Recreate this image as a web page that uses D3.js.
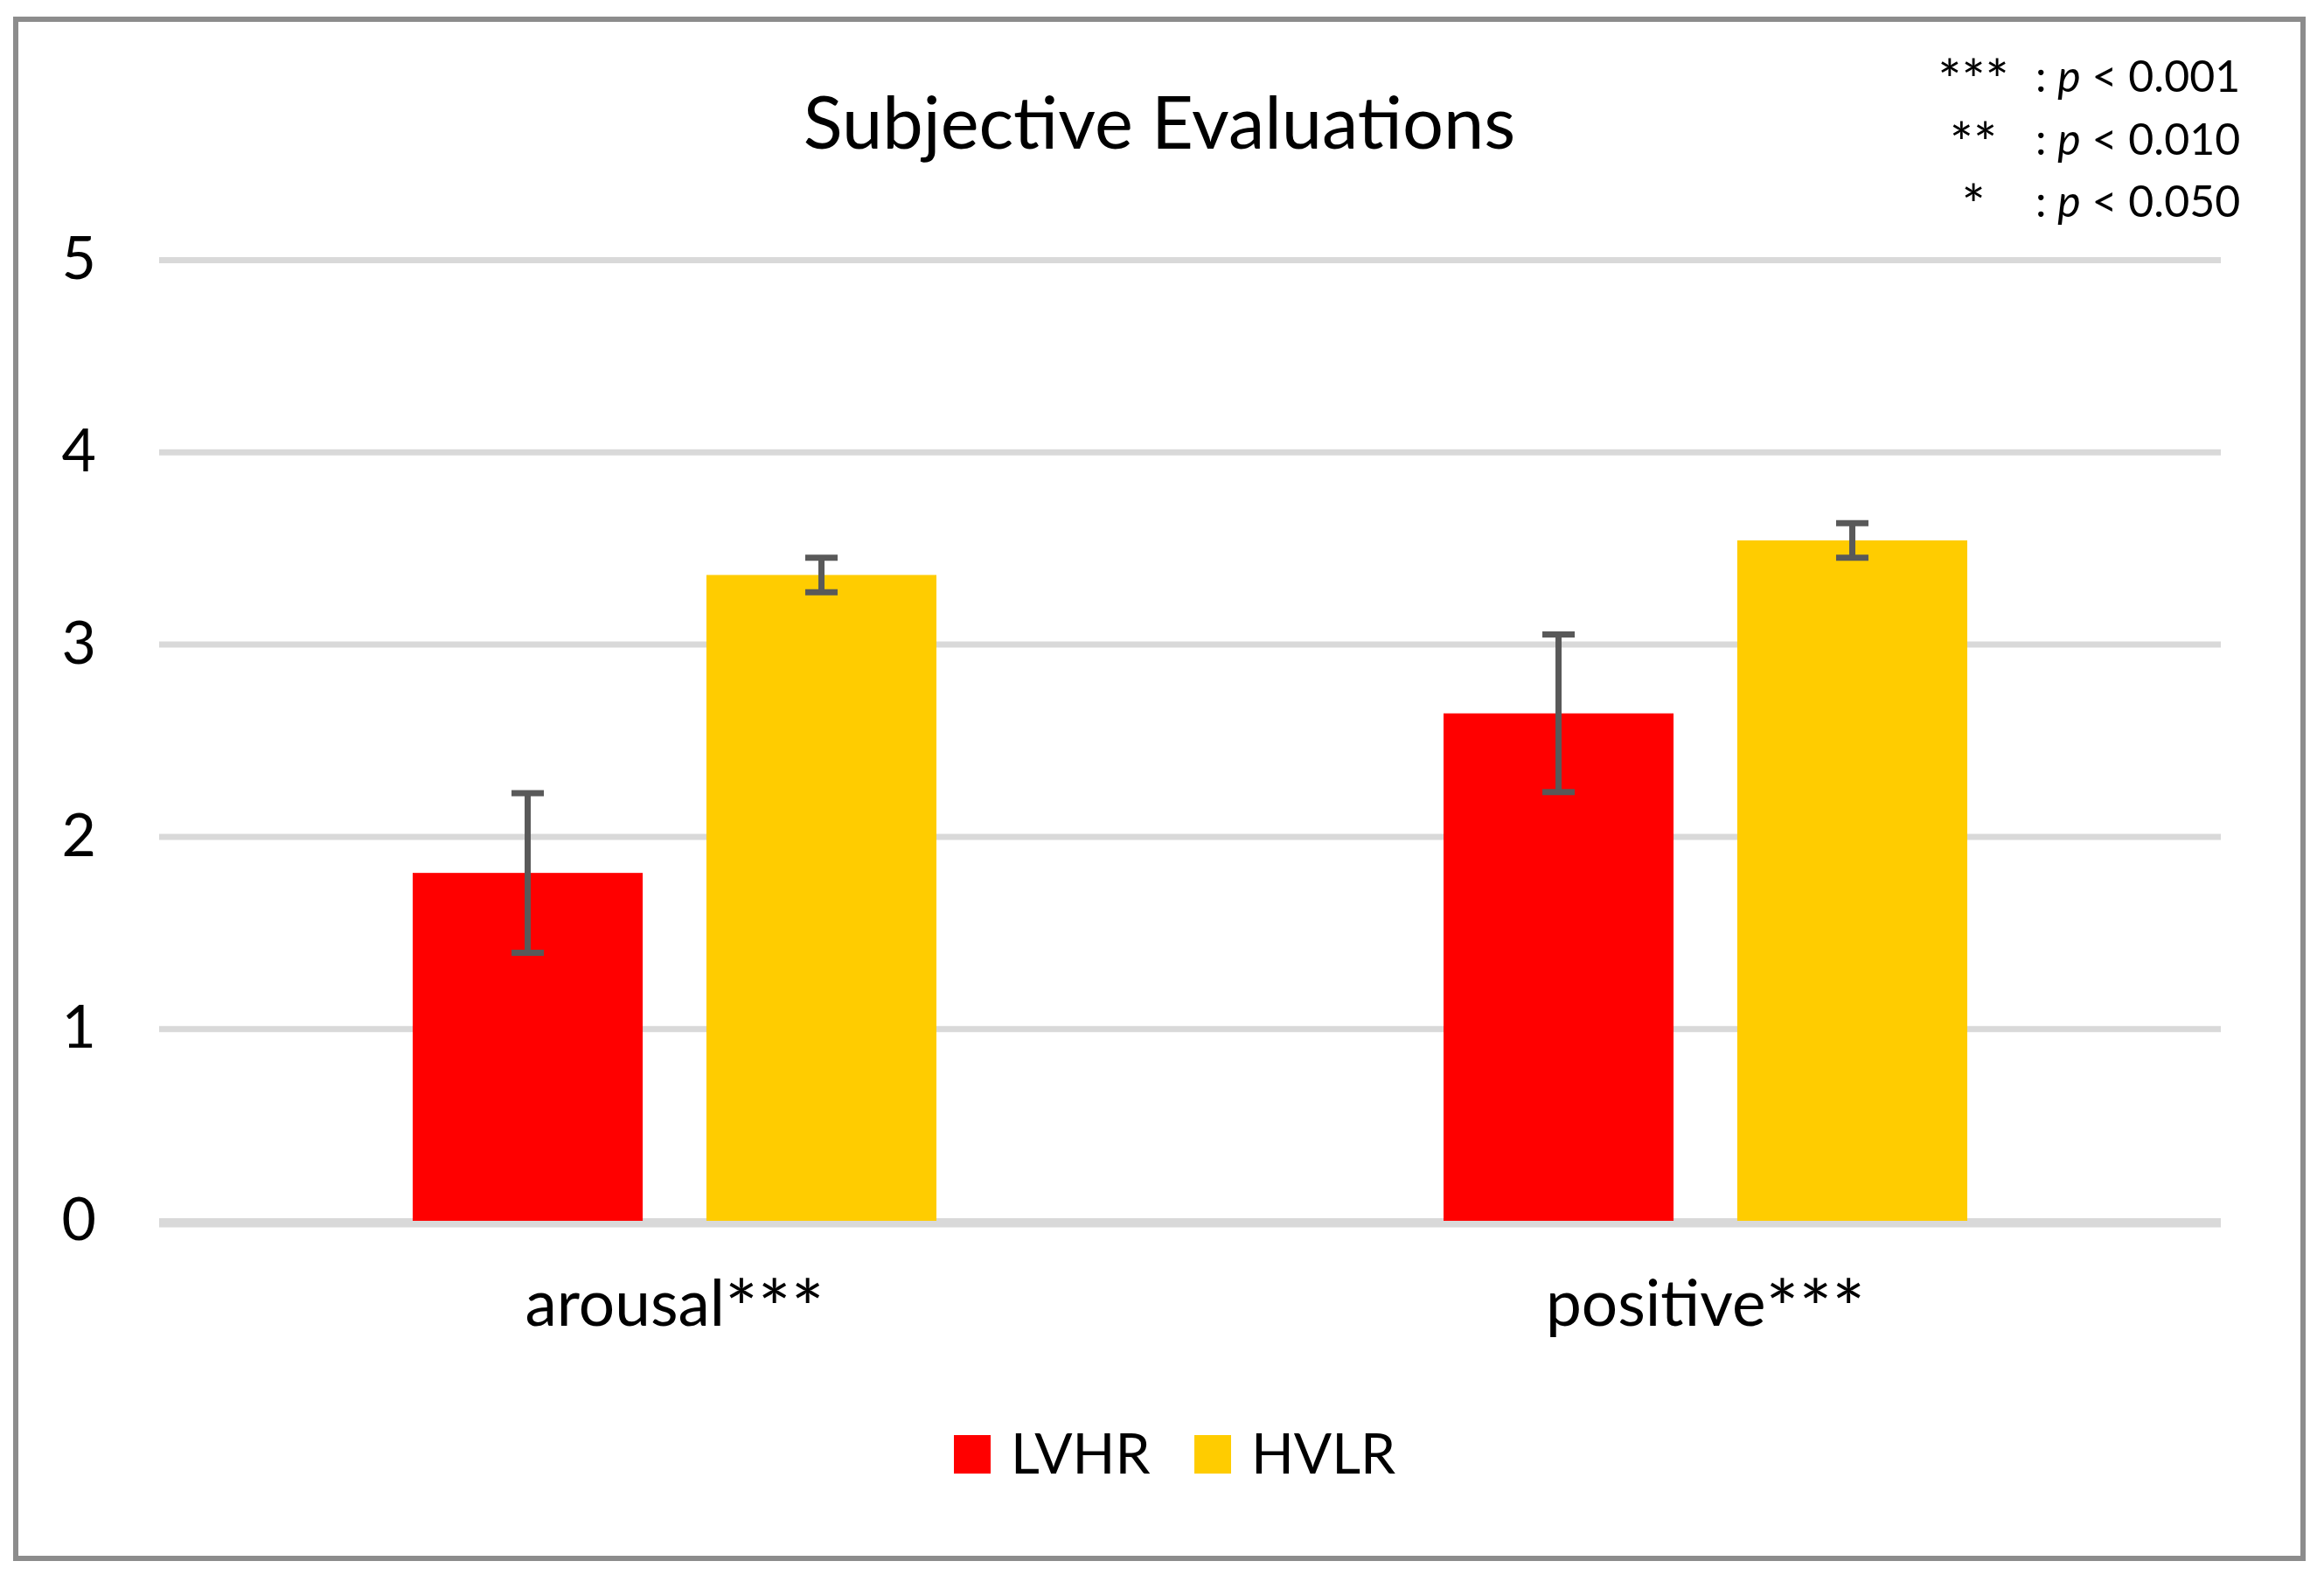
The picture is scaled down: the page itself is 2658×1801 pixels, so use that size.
<!DOCTYPE html>
<html>
<head>
<meta charset="utf-8">
<script src="https://cdn.jsdelivr.net/npm/d3@7"></script>
<style>
  body { margin: 0; background: #fff; }
  text { font-family: Lato, "Open Sans", sans-serif; fill: #000; }
</style>
</head>
<body>
<svg width="2658" height="1801"></svg>
<script>
(function () {
    'use strict';

    // data
    var categories = ['arousal***', 'positive***'];
    var series = ['LVHR', 'HVLR'];
    var colors = ['#ff0000', '#ffcc00'];
    var lvhrMeans = [1.81, 2.64];
    var hvlrMeans = [3.36, 3.54];
    var lvhrErr = [0.415, 0.41];
    var hvlrErr = [0.09, 0.09];
    var yTicks = [0, 1, 2, 3, 4, 5];
    var sigStars = ['***', '**', '*'];
    var sigLevels = ['0.001', '0.010', '0.050'];

    var means = [lvhrMeans, hvlrMeans];
    var errs = [lvhrErr, hvlrErr];

    var svg = d3.select('svg');

    var left = 182, right = 2540;
    var top = 297, bottom = 1396;

    // Lato's asterisk is small and high, so it gets enlarged and pulled down
    function withStars(sel, label, size) {
        var m = label.match(/^(.*?)(\**)$/);
        sel.append('tspan').text(m[1]);
        if (m[2]) {
            sel.append('tspan')
                .attr('font-size', size * 1.22)
                .attr('dy', size * 0.18)
                .text(m[2]);
        }
    }

    // chart frame
    svg.append('rect')
        .attr('x', 18).attr('y', 22)
        .attr('width', 2616).attr('height', 1760)
        .attr('fill', '#fff')
        .attr('stroke', '#8c8c8c')
        .attr('stroke-width', 6);

    svg.append('text')
        .attr('x', 1326).attr('y', 170)
        .attr('text-anchor', 'middle')
        .attr('font-size', 83)
        .text('Subjective Evaluations');

    var y = d3.scaleLinear().domain([0, 5]).range([bottom, top]);
    var x0 = d3.scaleBand().domain(categories).range([left, right]);
    var groupW = 599;
    var x1 = d3.scaleBand().domain(series).range([0, groupW]).paddingInner(0.217);
    var groupOff = (x0.bandwidth() - groupW) / 2;

    var yAxis = svg.append('g')
        .attr('transform', 'translate(' + left + ',0)')
        .call(d3.axisLeft(y).tickValues(yTicks).tickFormat(d3.format('d'))
            .tickSize(-(right - left)).tickPadding(72));
    yAxis.select('.domain').remove();
    yAxis.selectAll('line').attr('stroke', '#d9d9d9').attr('stroke-width', 7);
    yAxis.selectAll('text')
        .attr('font-size', 68)
        .attr('font-family', 'Lato, sans-serif')
        .attr('fill', '#000');

    var rows = [];
    categories.forEach(function (c, i) {
        series.forEach(function (s, j) {
            rows.push({cat: c, ser: s, v: means[j][i], e: errs[j][i], color: colors[j]});
        });
    });

    var bars = svg.append('g');
    bars.selectAll('rect').data(rows).enter().append('rect')
        .attr('x', function (d) { return x0(d.cat) + groupOff + x1(d.ser); })
        .attr('y', function (d) { return y(d.v); })
        .attr('width', x1.bandwidth())
        .attr('height', function (d) { return y(0) - y(d.v); })
        .attr('fill', function (d) { return d.color; });

    // zero line on top of bars
    svg.append('line')
        .attr('x1', left).attr('x2', right)
        .attr('y1', y(0) + 4).attr('y2', y(0) + 4)
        .attr('stroke', '#d9d9d9').attr('stroke-width', 7);

    // error bars
    var capW = 37;
    var eb = svg.append('g').attr('stroke', '#595959').attr('stroke-width', 7);
    rows.forEach(function (d) {
        var cx = x0(d.cat) + groupOff + x1(d.ser) + x1.bandwidth() / 2;
        eb.append('line').attr('x1', cx).attr('x2', cx)
            .attr('y1', y(d.v + d.e)).attr('y2', y(d.v - d.e));
        [d.v + d.e, d.v - d.e].forEach(function (v) {
            eb.append('line').attr('x1', cx - capW / 2).attr('x2', cx + capW / 2)
                .attr('y1', y(v)).attr('y2', y(v));
        });
    });

    // category labels
    svg.append('g').selectAll('text').data(categories).enter().append('text')
        .attr('x', function (d) { return x0(d) + x0.bandwidth() / 2; })
        .attr('y', 1516)
        .attr('text-anchor', 'middle')
        .attr('font-size', 73)
        .each(function (d) { withStars(d3.select(this), d, 73); });

    // legend
    var legendX = 1091, legendStep = 275;
    var lg = svg.append('g').selectAll('g').data(series).enter().append('g')
        .attr('transform', function (d, i) { return 'translate(' + (legendX + i * legendStep) + ',0)'; });
    lg.append('rect')
        .attr('x', 0).attr('y', 1641)
        .attr('width', 42).attr('height', 44)
        .attr('fill', function (d, i) { return colors[i]; });
    lg.append('text')
        .attr('x', 65).attr('y', 1685)
        .attr('font-size', 64)
        .text(function (d) { return d; });

    // significance key
    var key = svg.append('g');
    sigStars.forEach(function (s, i) {
        var by = 105 + i * 71.5;
        key.append('text')
            .attr('x', 2257).attr('y', by + 10)
            .attr('text-anchor', 'middle')
            .attr('font-size', 64)
            .text(s);
        var t = key.append('text')
            .attr('x', 2328).attr('y', by)
            .attr('font-size', 50);
        t.append('tspan').text(': ');
        t.append('tspan').attr('font-style', 'italic').text('p');
        t.append('tspan').text(' < ' + sigLevels[i]);
    });

}());
</script>
</body>
</html>
